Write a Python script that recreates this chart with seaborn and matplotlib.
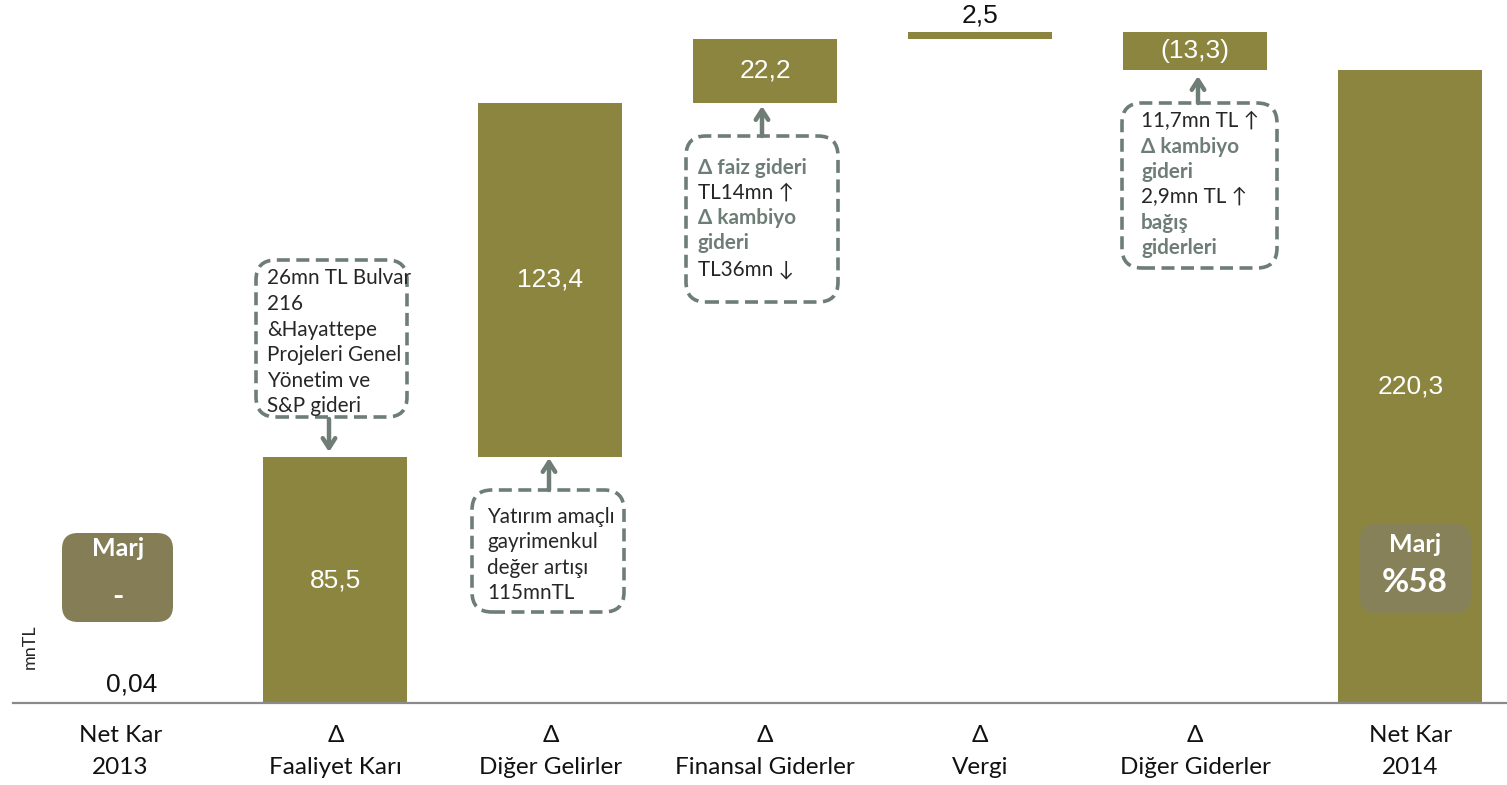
import matplotlib
matplotlib.use("Agg")
import matplotlib.pyplot as plt
from matplotlib.patches import FancyBboxPatch
from matplotlib.transforms import IdentityTransform
from matplotlib.text import Annotation
import seaborn as sns
import pandas as pd

# ---------------- data ----------------
categories = ["Net Kar\n2013", "Δ\nFaaliyet Karı", "Δ\nDiğer Gelirler",
              "Δ\nFinansal Giderler", "Δ\nVergi", "Δ\nDiğer Giderler", "Net Kar\n2014"]
values = [0.04, 85.5, 123.4, 22.2, 2.5, -13.3, 220.3]
is_total = [True, False, False, False, False, False, True]
value_labels = ["0,04", "85,5", "123,4", "22,2", "2,5", "(13,3)", "220,3"]
margin_labels = ["-", "%58"]

# waterfall geometry from the values
bottoms, heights = [], []
running = 0.0
for v, tot in zip(values, is_total):
    if tot:
        bottoms.append(0.0)
        heights.append(v)
        running = v
    else:
        start = running
        running = running + v
        bottoms.append(min(start, running))
        heights.append(abs(v))

W, H = 1507, 785
BAR = "#8C853F"
GRAY = "#6E7D76"
DARK = "#262626"

sns.set_style("white")
plt.rcParams["font.family"] = ["Lato", "DejaVu Sans"]

fig = plt.figure(figsize=(W / 100, H / 100), dpi=100)
ax = fig.add_axes([13 / W, (H - 703) / H, 1 - 13 / W, 703 / H])

df = pd.DataFrame({"cat": categories, "h": heights})
sns.barplot(data=df, x="cat", y="h", color=BAR, saturation=1, width=0.67,
            ax=ax, order=categories)
for p, b in zip(ax.patches, bottoms):
    p.set_y(b)
    p.set_edgecolor("none")

ax.set_xlim(-0.5, 6.45)
ax.set_ylim(0, 244.7)
ax.set_xlabel("")
ax.set_ylabel("")
ax.set_yticks([])
for s in ["left", "right", "top"]:
    ax.spines[s].set_visible(False)
ax.spines["bottom"].set_color("#8A8A8A")
ax.spines["bottom"].set_linewidth(1.6)
ax.tick_params(axis="x", length=0, pad=16, labelsize=17.5, labelcolor="#111111")
for t in ax.get_xticklabels():
    t.set_linespacing(1.65)

# value labels
VS = 19
for i, (lab, b, h) in enumerate(zip(value_labels, bottoms, heights)):
    if i == 0:
        ax.text(i + 0.05, b + h + 6.5, lab, ha="center", va="center", fontsize=VS,
                color="#111111", family="Liberation Sans")
    elif i == 4:
        ax.text(i, b + h + 5.6, lab, ha="center", va="center", fontsize=VS,
                color="#111111", family="Liberation Sans")
    else:
        ax.text(i, b + h / 2, lab, ha="center", va="center", fontsize=VS,
                color="white", family="Liberation Sans")

pix = IdentityTransform()


def rbox(x0, y0, x1, y1, fc="none", ec="none", ls="-", lw=0, r=16):
    patch = FancyBboxPatch((x0, H - y1), x1 - x0, y1 - y0,
                           boxstyle=f"round,pad=0,rounding_size={r}",
                           fc=fc, ec=ec, ls=ls, lw=lw,
                           transform=pix, figure=fig, zorder=5)
    fig.patches.append(patch)


def arrow(x, y_from, y_to):
    fig.add_artist(Annotation(
        "", xy=(x / W, 1 - y_to / H), xytext=(x / W, 1 - y_from / H),
        xycoords="figure fraction", textcoords="figure fraction",
        arrowprops=dict(arrowstyle="->,head_width=0.45,head_length=0.7",
                        color=GRAY, lw=3.2, shrinkA=0, shrinkB=0)))


def ftext(x, y, s, **kw):
    fig.text(x / W, 1 - y / H, s, zorder=7, **kw)


def lines(x, ys, items, size=14.9):
    for y, (txt, bold) in zip(ys, items):
        ftext(x, y, txt, ha="left", va="center", fontsize=size,
              color=GRAY if bold else DARK,
              fontweight="bold" if bold else "normal")


dash = (0, (3.6, 1.8))

# callout 1
rbox(256, 260, 407, 417, ec=GRAY, ls=dash, lw=2.6, r=20)
lines(267, [278, 304, 330, 355, 381, 406],
      [("26mn TL Bulvar", False), ("216", False), ("&Hayattepe", False),
       ("Projeleri Genel", False), ("Yönetim ve", False), ("S&P gideri", False)])
arrow(329, 419, 452)

# callout 2
rbox(472, 490, 624, 612, ec=GRAY, ls=dash, lw=2.6, r=20)
lines(487, [517, 542, 568, 593],
      [("Yatırım amaçlı", False), ("gayrimenkul", False),
       ("değer artışı", False), ("115mnTL", False)])
arrow(549, 490, 458)

# callout 3
rbox(686, 136, 838, 302, ec=GRAY, ls=dash, lw=2.6, r=20)
lines(698, [168, 193, 218, 243, 269],
      [("Δ faiz gideri", True), ("TL14mn ↑", False), ("Δ kambiyo", True),
       ("gideri", True), ("TL36mn ↓", False)])
arrow(762, 136, 106)

# callout 4
rbox(1122, 103, 1277, 268, ec=GRAY, ls=dash, lw=2.6, r=20)
lines(1141, [121, 147, 172, 197, 223, 248],
      [("11,7mn TL ↑", False), ("Δ kambiyo", True), ("gideri", True),
       ("2,9mn TL ↑", False), ("bağış", True), ("giderleri", True)])
arrow(1198, 103, 76)

# margin boxes
rbox(62, 533, 173, 622, fc="#847D56", r=16)
ftext(118, 549, "Marj", ha="center", va="center", fontsize=18,
      color="white", fontweight="bold")
ftext(118, 597, margin_labels[0], ha="center", va="center",
      fontsize=22, color="white", fontweight="bold")

rbox(1360, 524, 1471, 613, fc="#878159", r=16)
ftext(1415, 545, "Marj", ha="center", va="center", fontsize=18,
      color="white", fontweight="bold")
ftext(1415, 583, margin_labels[1], ha="center", va="center",
      fontsize=24, color="white", fontweight="bold")

ftext(30, 647, "mnTL", rotation=90, ha="center", va="center",
      fontsize=13, color=DARK)

fig.savefig("out.png", dpi=100)
